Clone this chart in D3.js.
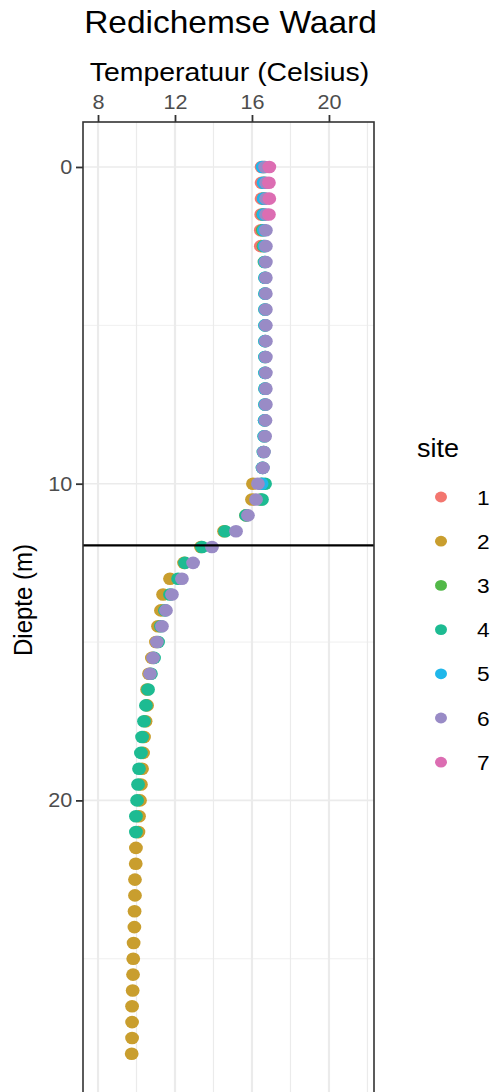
<!DOCTYPE html>
<html>
<head>
<meta charset="utf-8">
<script src="https://cdn.jsdelivr.net/npm/d3@7"></script>
<style>
  body { margin: 0; background: #fff; }
  text { font-family: "Liberation Sans", Arial, sans-serif; }
</style>
</head>
<body>
<div id="chart"></div>
<script>
// depth grid (m), measurements every half metre
const depths = [0, 0.5, 1, 1.5, 2, 2.5, 3, 3.5, 4, 4.5, 5, 5.5, 6, 6.5, 7, 7.5, 8, 8.5, 9, 9.5,
  10, 10.5, 11, 11.5, 12, 12.5, 13, 13.5, 14, 14.5, 15, 15.5, 16, 16.5, 17, 17.5, 18, 18.5, 19, 19.5,
  20, 20.5, 21, 21.5, 22, 22.5, 23, 23.5, 24, 24.5, 25, 25.5, 26, 26.5, 27, 27.5, 28];

const sites = ["1", "2", "3", "4", "5", "6", "7"];
const siteColors = ["#f3766f", "#c99e2e", "#52b848", "#1dbb92", "#1fb7ea", "#998bc6", "#dc6db2"];
// index in depths where each site's profile starts
const siteStart = [0, 20, 0, 20, 0, 0, 0];

// temperatures (Celsius) per site, top to bottom
const temp1 = [16.5, 16.5, 16.5, 16.48, 16.46, 16.46];
const temp2 = [16.05, 16.0, 15.69, 14.55, 13.35, 12.47, 11.74, 11.38, 11.27, 11.12, 11.01, 10.8,
  10.65, 10.55, 10.55, 10.47, 10.39, 10.34, 10.29, 10.23, 10.18, 10.13, 10.1, 9.97, 9.96, 9.92,
  9.92, 9.9, 9.89, 9.85, 9.83, 9.82, 9.8, 9.77, 9.77, 9.77, 9.75];
const temp3 = [16.62, 16.64, 16.62, 16.58, 16.56, 16.6, 16.65, 16.68, 16.68, 16.68, 16.68, 16.68,
  16.68, 16.68, 16.68, 16.68, 16.66, 16.64, 16.6, 16.55, 16.5, 16.45];
const temp4 = [16.68, 16.52, 15.69, 14.6, 13.4, 12.52, 12.16, 11.74, 11.48, 11.27, 11.12, 10.91,
  10.75, 10.6, 10.49, 10.39, 10.29, 10.23, 10.13, 10.08, 10.03, 9.97, 9.97];
const temp5 = [16.55, 16.6, 16.6, 16.6, 16.62, 16.65, 16.68, 16.68, 16.68, 16.68, 16.68, 16.68,
  16.68, 16.68, 16.68, 16.68, 16.66, 16.64, 16.6, 16.55, 16.5];
const temp6 = [16.68, 16.73, 16.73, 16.73, 16.72, 16.72, 16.72, 16.72, 16.72, 16.72, 16.72, 16.72,
  16.72, 16.72, 16.72, 16.72, 16.7, 16.68, 16.62, 16.57, 16.31, 16.21, 15.79, 15.17, 13.92, 12.94,
  12.36, 11.84, 11.53, 11.32, 11.06, 10.86, 10.7];
const temp7 = [16.9, 16.88, 16.9, 16.88];
const temps = [temp1, temp2, temp3, temp4, temp5, temp6, temp7];

const xTicks = [8, 12, 16, 20];
const xMinor = [10, 14, 18, 22];
const yTicks = [0, 10, 20];
const yMinor = [5, 15, 25];
const thermoclineDepth = 11.95;

// flatten to points, site by site (later sites drawn on top)
const points = [];
sites.forEach((s, i) => {
  temps[i].forEach((t, j) => {
    points.push({ site: s, temp: t, depth: depths[siteStart[i] + j] });
  });
});

const width = 491;
const height = 1092;
const panel = { left: 83, right: 374, top: 122, bottom: 1094 };
const sx = 1.08; // slight horizontal text stretch seen in the reference

const svg = d3
  .select("#chart")
  .append("svg")
  .attr("width", width)
  .attr("height", height);

const x = d3.scaleLinear().domain([7.22, 22.34]).range([panel.left, panel.right]);
const y = d3.scaleLinear().domain([-1.42, 29.27]).range([panel.top, panel.bottom]);
const color = d3.scaleOrdinal().domain(sites).range(siteColors);

// clip to the panel
svg.append("clipPath").attr("id", "clip")
  .append("rect")
  .attr("x", panel.left).attr("y", panel.top)
  .attr("width", panel.right - panel.left).attr("height", panel.bottom - panel.top);

const grid = svg.append("g").attr("clip-path", "url(#clip)");

// minor grid
grid.selectAll(".vminor").data(xMinor).join("line")
  .attr("x1", d => x(d)).attr("x2", d => x(d))
  .attr("y1", panel.top).attr("y2", panel.bottom)
  .attr("stroke", "#ebebeb").attr("stroke-width", 1.2);
grid.selectAll(".hminor").data(yMinor).join("line")
  .attr("y1", d => y(d)).attr("y2", d => y(d))
  .attr("x1", panel.left).attr("x2", panel.right)
  .attr("stroke", "#ebebeb").attr("stroke-width", 0.8);

// major grid
grid.selectAll(".vmajor").data(xTicks).join("line")
  .attr("x1", d => x(d)).attr("x2", d => x(d))
  .attr("y1", panel.top).attr("y2", panel.bottom)
  .attr("stroke", "#ebebeb").attr("stroke-width", 2.2);
grid.selectAll(".hmajor").data(yTicks).join("line")
  .attr("y1", d => y(d)).attr("y2", d => y(d))
  .attr("x1", panel.left).attr("x2", panel.right)
  .attr("stroke", "#ebebeb").attr("stroke-width", 1.6);

// points
grid.selectAll("ellipse").data(points).join("ellipse")
  .attr("cx", d => x(d.temp))
  .attr("cy", d => y(d.depth))
  .attr("rx", 6.9)
  .attr("ry", 6.3)
  .attr("fill", d => color(d.site));

// thermocline line
grid.append("line")
  .attr("x1", panel.left).attr("x2", panel.right)
  .attr("y1", y(thermoclineDepth)).attr("y2", y(thermoclineDepth))
  .attr("stroke", "#000").attr("stroke-width", 2.2);

// panel border
svg.append("rect")
  .attr("x", panel.left).attr("y", panel.top)
  .attr("width", panel.right - panel.left).attr("height", panel.bottom - panel.top)
  .attr("fill", "none").attr("stroke", "#333").attr("stroke-width", 1.6);

// axes
const xAxis = svg.append("g")
  .attr("transform", `translate(0,${panel.top})`)
  .call(d3.axisTop(x).tickValues(xTicks).tickSize(7).tickPadding(6).tickFormat(d3.format("d")));
const yAxis = svg.append("g")
  .attr("transform", `translate(${panel.left},0)`)
  .call(d3.axisLeft(y).tickValues(yTicks).tickSize(7).tickPadding(3).tickFormat(d3.format("d")));

[xAxis, yAxis].forEach(ax => {
  ax.select(".domain").remove();
  ax.selectAll(".tick line").attr("stroke", "#333").attr("stroke-width", 1.8);
  ax.selectAll(".tick text")
    .attr("fill", "#4d4d4d")
    .style("font-size", "20px")
    .style("font-family", '"Liberation Sans", Arial, sans-serif');
});
xAxis.selectAll(".tick text").attr("transform", `scale(${sx},1)`);
yAxis.selectAll(".tick text").attr("transform", `scale(${sx},1)`);

// titles
function label(txt, px, py, size, anchor, extra) {
  return svg.append("text")
    .attr("transform", `translate(${px},${py}) scale(${sx},1)` + (extra || ""))
    .attr("text-anchor", anchor)
    .style("font-size", size + "px")
    .attr("fill", "#000")
    .text(txt);
}

label("Redichemse Waard", (panel.left + panel.right) / 2 + 2, 33, 31, "middle");
label("Temperatuur (Celsius)", (panel.left + panel.right) / 2 + 1, 81, 26.3, "middle");
label("Diepte (m)", 32, 600, 24, "middle", " rotate(-90)");

// legend
const legend = svg.append("g").attr("transform", "translate(417,0)");
legend.append("text")
  .attr("transform", `translate(0,457) scale(${sx},1)`)
  .style("font-size", "25px")
  .text("site");

const item = legend.selectAll(".item").data(sites).join("g")
  .attr("transform", (d, i) => `translate(0,${497 + i * 44.2})`);
item.append("ellipse")
  .attr("cx", 24).attr("cy", 0)
  .attr("rx", 6).attr("ry", 5.4)
  .attr("fill", d => color(d));
item.append("text")
  .attr("transform", `translate(60,0) scale(${sx},1)`)
  .attr("dy", "0.36em")
  .style("font-size", "21px")
  .text(d => d);
</script>
</body>
</html>
